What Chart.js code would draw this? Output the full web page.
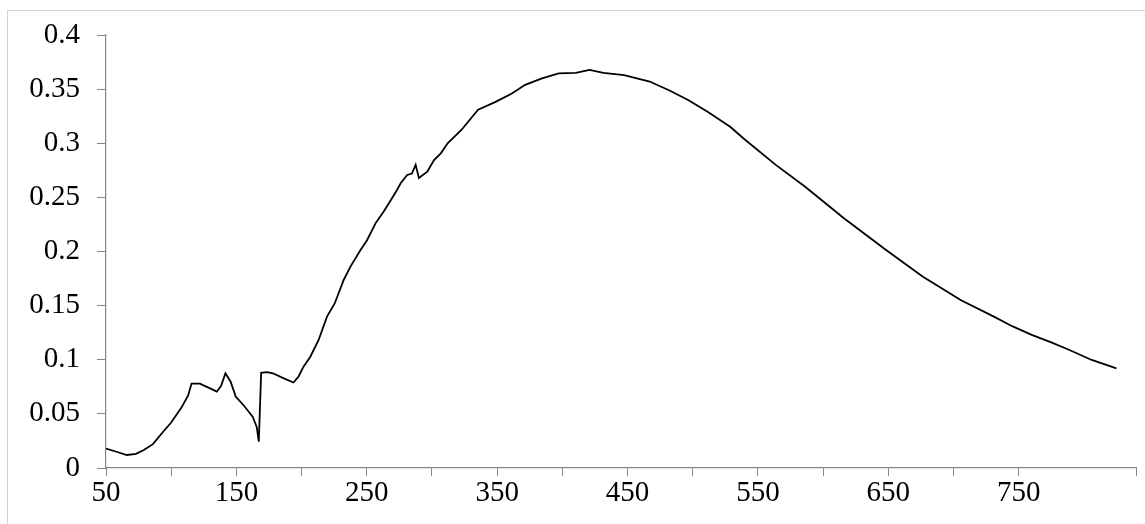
<!DOCTYPE html>
<html>
<head>
<meta charset="utf-8">
<script src="https://cdn.jsdelivr.net/npm/chart.js@4.4.1/dist/chart.umd.min.js"></script>
<style>
  html, body { margin: 0; padding: 0; background: #fff; }
  #wrap { width: 1145px; height: 524px; position: relative; }
</style>
</head>
<body>
<div id="wrap"><canvas id="myChart" width="1145" height="524"></canvas></div>
<script>
const wavelength = [
  50, 58, 66, 73, 79, 86, 93.5, 100, 108, 113, 115.6, 122, 129, 135, 138.3, 141.6, 145.5, 149.5,
  155.5, 162.5, 165.6, 167.2, 169, 173.4, 178, 186, 193.8, 197.7, 201.5, 206.7, 213, 219.5, 225.4,
  232.3, 237.5, 245.2, 250, 256.7, 263, 267.7, 273.3, 276, 281, 284.6, 287.5, 290, 296.4, 301.6,
  306.8, 312, 322.4, 335.4, 348.4, 361.3, 371.5, 384.4, 397.2, 410.3, 420.9, 431.5, 447.4, 467,
  481.8, 496.5, 511.4, 529, 538.8, 563.7, 586, 616, 648.3, 676.6, 705.8, 731, 745, 760, 775, 789,
  806, 825
];
const absorbance = [
  0.018, 0.015, 0.012, 0.013, 0.0166, 0.022, 0.033, 0.042, 0.056, 0.067, 0.078, 0.078, 0.074, 0.0705, 0.076, 0.0875, 0.080, 0.066,
  0.058, 0.0474, 0.038, 0.0243, 0.088, 0.0885, 0.0875, 0.083, 0.079, 0.0845, 0.0936, 0.1028, 0.118, 0.1398, 0.152,
  0.1737, 0.186, 0.2014, 0.21, 0.226, 0.237, 0.246, 0.257, 0.263, 0.2707, 0.272, 0.280, 0.268, 0.2737, 0.2845,
  0.2907, 0.300, 0.312, 0.331, 0.338, 0.346, 0.354, 0.360, 0.3646, 0.365, 0.3677, 0.365, 0.363, 0.357,
  0.349, 0.340, 0.329, 0.315, 0.3046, 0.280, 0.260, 0.2307, 0.2014, 0.1767, 0.155, 0.1398, 0.131, 0.123, 0.116, 0.109,
  0.0998, 0.092
];
const xTickLabels = [50, 150, 250, 350, 450, 550, 650, 750];
const yTickLabels = ['0', '0.05', '0.1', '0.15', '0.2', '0.25', '0.3', '0.35', '0.4'];

const axisGray = '#868686';
const labelFont = { family: "'Liberation Serif', 'Times New Roman', serif", size: 29 };

const frame = {
  id: 'frame',
  beforeDraw(chart) {
    const { ctx } = chart;
    ctx.save();
    ctx.fillStyle = '#fff';
    ctx.fillRect(0, 0, chart.width, chart.height);
    ctx.strokeStyle = '#d4d4d4';
    ctx.lineWidth = 1;
    ctx.strokeRect(7.5, 10.5, chart.width, chart.height);
    ctx.restore();
  }
};

const config = {
  type: 'line',
  data: {
    datasets: [{
      data: wavelength.map((w, i) => ({ x: w, y: absorbance[i] })),
      borderColor: '#000',
      borderWidth: 1.8,
      pointRadius: 0,
      tension: 0,
      fill: false
    }]
  },
  options: {
    responsive: false,
    animation: false,
    layout: { padding: { top: 35, right: 9, left: 0, bottom: 0 } },
    plugins: { legend: { display: false }, tooltip: { enabled: false } },
    scales: {
      x: {
        type: 'linear',
        min: 50,
        max: 840,
        afterFit(scale) { scale.height = 56; },
        border: { display: true, color: axisGray, width: 1.2 },
        grid: { drawOnChartArea: false, drawTicks: true, tickLength: 8, color: axisGray },
        ticks: {
          stepSize: 50,
          autoSkip: false,
          maxRotation: 0,
          padding: 0,
          color: '#000',
          font: labelFont,
          callback: (v) => xTickLabels.includes(v) ? String(v) : ''
        }
      },
      y: {
        min: 0,
        max: 0.4,
        afterFit(scale) { scale.width = 106; },
        border: { display: true, color: axisGray, width: 1.2 },
        grid: { drawOnChartArea: false, drawTicks: true, tickLength: 9, color: axisGray },
        ticks: {
          stepSize: 0.05,
          padding: 17,
          color: '#000',
          font: labelFont,
          callback: (v) => yTickLabels[Math.round(v / 0.05)]
        }
      }
    }
  },
  plugins: [frame]
};

const myChart = new Chart(document.getElementById('myChart'), config);
</script>
</body>
</html>
